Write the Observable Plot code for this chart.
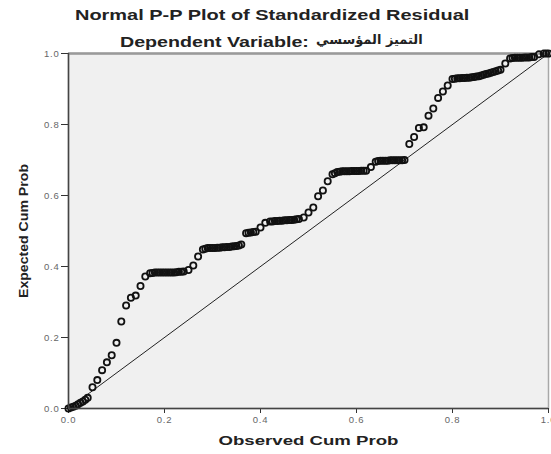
<!DOCTYPE html>
<html>
<head>
<meta charset="utf-8">
<script src="https://cdn.jsdelivr.net/npm/d3@7"></script>
<script src="https://cdn.jsdelivr.net/npm/@observablehq/plot@0.6"></script>
<style>
  html, body { margin: 0; padding: 0; background: #fff; }
  #wrap { width: 551px; height: 454px; position: relative; overflow: hidden; }
  .hdr { position: absolute; white-space: nowrap; font: bold 15px "Liberation Sans", Arial, sans-serif; color: #222; transform-origin: left center; line-height: 17px; }
  #title { left: 75px; top: 6px; transform: scaleX(1.33); }
  #subtitleEn { left: 120px; top: 33px; transform: scaleX(1.31); }
  #subtitleAr { left: 316px; top: 32px; font: 600 13px "DejaVu Sans", "Noto Sans", sans-serif; transform: none; }
  #chart { position: absolute; left: 0; top: 50px; }
  #chart svg { overflow: visible; }
  #chart svg [aria-label="x-axis label"] text, #chart svg [aria-label="y-axis label"] text { font: bold 13px "Liberation Sans", Arial, sans-serif; fill: #222; }
  #chart svg [aria-label="x-axis tick label"] text, #chart svg [aria-label="y-axis tick label"] text { letter-spacing: 0.8px; }
</style>
</head>
<body>
<div id="wrap">
  <div id="title" class="hdr">Normal P-P Plot of Standardized Residual</div>
  <div id="subtitleEn" class="hdr">Dependent Variable:</div>
  <div id="subtitleAr" class="hdr" dir="rtl">التميز المؤسسي</div>
  <div id="chart"></div>
</div>
<script>
const observed = [
  0.000, 0.005, 0.010, 0.015, 0.020, 0.025, 0.030, 0.035, 0.040, 0.050,
  0.060, 0.070, 0.080, 0.090, 0.100, 0.110, 0.120, 0.130, 0.140, 0.150,
  0.160, 0.170, 0.175, 0.180, 0.185, 0.190, 0.195, 0.200, 0.205, 0.210,
  0.215, 0.220, 0.225, 0.230, 0.235, 0.240, 0.250, 0.260, 0.270, 0.280,
  0.285, 0.290, 0.295, 0.300, 0.305, 0.310, 0.315, 0.320, 0.325, 0.330,
  0.335, 0.340, 0.345, 0.350, 0.355, 0.360, 0.370, 0.375, 0.380, 0.385,
  0.390, 0.400, 0.410, 0.420, 0.425, 0.430, 0.435, 0.440, 0.445, 0.450,
  0.455, 0.460, 0.465, 0.470, 0.475, 0.480, 0.490, 0.500, 0.510, 0.520,
  0.530, 0.540, 0.550, 0.555, 0.560, 0.565, 0.570, 0.575, 0.580, 0.585,
  0.590, 0.595, 0.600, 0.605, 0.610, 0.615, 0.620, 0.630, 0.640, 0.645,
  0.650, 0.655, 0.660, 0.665, 0.670, 0.675, 0.680, 0.685, 0.690, 0.695,
  0.700, 0.710, 0.720, 0.730, 0.740, 0.750, 0.760, 0.770, 0.780, 0.790,
  0.800, 0.805, 0.810, 0.815, 0.820, 0.825, 0.830, 0.835, 0.840, 0.845,
  0.850, 0.855, 0.860, 0.865, 0.870, 0.875, 0.880, 0.885, 0.890, 0.895,
  0.900, 0.910, 0.920, 0.925, 0.930, 0.935, 0.940, 0.945, 0.950, 0.955,
  0.960, 0.965, 0.970, 0.980, 0.990, 0.995, 1.000
];
const expected = [
  0.000, 0.003, 0.005, 0.008, 0.012, 0.016, 0.020, 0.025, 0.030, 0.060,
  0.080, 0.108, 0.130, 0.150, 0.185, 0.245, 0.290, 0.312, 0.318, 0.345,
  0.372, 0.381, 0.382, 0.383, 0.383, 0.383, 0.383, 0.383, 0.383, 0.383,
  0.383, 0.383, 0.384, 0.385, 0.385, 0.386, 0.390, 0.403, 0.428, 0.448,
  0.450, 0.452, 0.452, 0.452, 0.452, 0.453, 0.453, 0.454, 0.454, 0.455,
  0.455, 0.456, 0.457, 0.458, 0.459, 0.462, 0.494, 0.495, 0.496, 0.497,
  0.498, 0.510, 0.523, 0.527, 0.527, 0.528, 0.528, 0.529, 0.529, 0.530,
  0.530, 0.531, 0.531, 0.532, 0.533, 0.534, 0.538, 0.552, 0.566, 0.598,
  0.614, 0.640, 0.660, 0.663, 0.666, 0.667, 0.668, 0.668, 0.668, 0.668,
  0.669, 0.669, 0.669, 0.669, 0.670, 0.670, 0.670, 0.680, 0.695, 0.697,
  0.698, 0.698, 0.698, 0.698, 0.699, 0.699, 0.699, 0.699, 0.699, 0.699,
  0.700, 0.745, 0.765, 0.790, 0.792, 0.825, 0.845, 0.875, 0.893, 0.910,
  0.928, 0.929, 0.930, 0.930, 0.931, 0.931, 0.932, 0.932, 0.933, 0.934,
  0.935, 0.936, 0.938, 0.940, 0.942, 0.944, 0.946, 0.948, 0.950, 0.952,
  0.954, 0.972, 0.986, 0.987, 0.988, 0.988, 0.988, 0.988, 0.989, 0.989,
  0.989, 0.990, 0.990, 0.998, 1.000, 1.000, 1.000
];
const tickValues = [0.0, 0.2, 0.4, 0.6, 0.8, 1.0];
const referenceLine = [0, 1];

const points = observed.map((o, i) => ({observed: o, expected: expected[i]}));

const chart = Plot.plot({
  width: 551,
  height: 404,
  marginLeft: 68,
  marginRight: 3,
  marginTop: 3,
  marginBottom: 46,
  style: { fontFamily: "'Liberation Sans', Arial, sans-serif", fontSize: "9.5px", background: "transparent", color: "#666", overflow: "visible" },
  x: { domain: [0, 1] },
  y: { domain: [0, 1] },
  marks: [
    Plot.frame({ fill: "#f0f0f0", stroke: "#a8a8a8", strokeWidth: 1.5 }),
    Plot.ruleY([1], { stroke: "#9a9a9a", strokeWidth: 2.5 }),
    Plot.axisX({ ticks: tickValues, tickFormat: d3.format(".1f"), tickSize: 5, tickPadding: 3, label: "Observed Cum Prob", labelAnchor: "center", labelArrow: "none", labelOffset: 36, stroke: "#333" }),
    Plot.axisY({ ticks: tickValues, tickFormat: d3.format(".1f"), tickSize: 7, tickPadding: 2, label: "Expected Cum Prob", labelAnchor: "center", labelArrow: "none", labelOffset: 50, stroke: "#333" }),
    Plot.line(referenceLine, { x: d => d, y: d => d, stroke: "#222", strokeWidth: 1 }),
    Plot.dot(points, { x: "observed", y: "expected", r: 3.1, stroke: "#111", strokeWidth: 1.8, fill: "none" }),
    Plot.ruleX([0], { stroke: "#444", strokeWidth: 1.5 }),
    Plot.ruleY([0], { stroke: "#444", strokeWidth: 1.5 })
  ]
});
document.getElementById("chart").appendChild(chart);
// stretch axis titles to the reference's wide bold lettering
const xl = chart.querySelector('[aria-label="x-axis label"] text');
if (xl) { xl.setAttribute("textLength", "180"); xl.setAttribute("lengthAdjust", "spacingAndGlyphs"); }
const yl = chart.querySelector('[aria-label="y-axis label"] text');
if (yl) { yl.setAttribute("textLength", "134"); yl.setAttribute("lengthAdjust", "spacingAndGlyphs"); }
</script>
</body>
</html>
